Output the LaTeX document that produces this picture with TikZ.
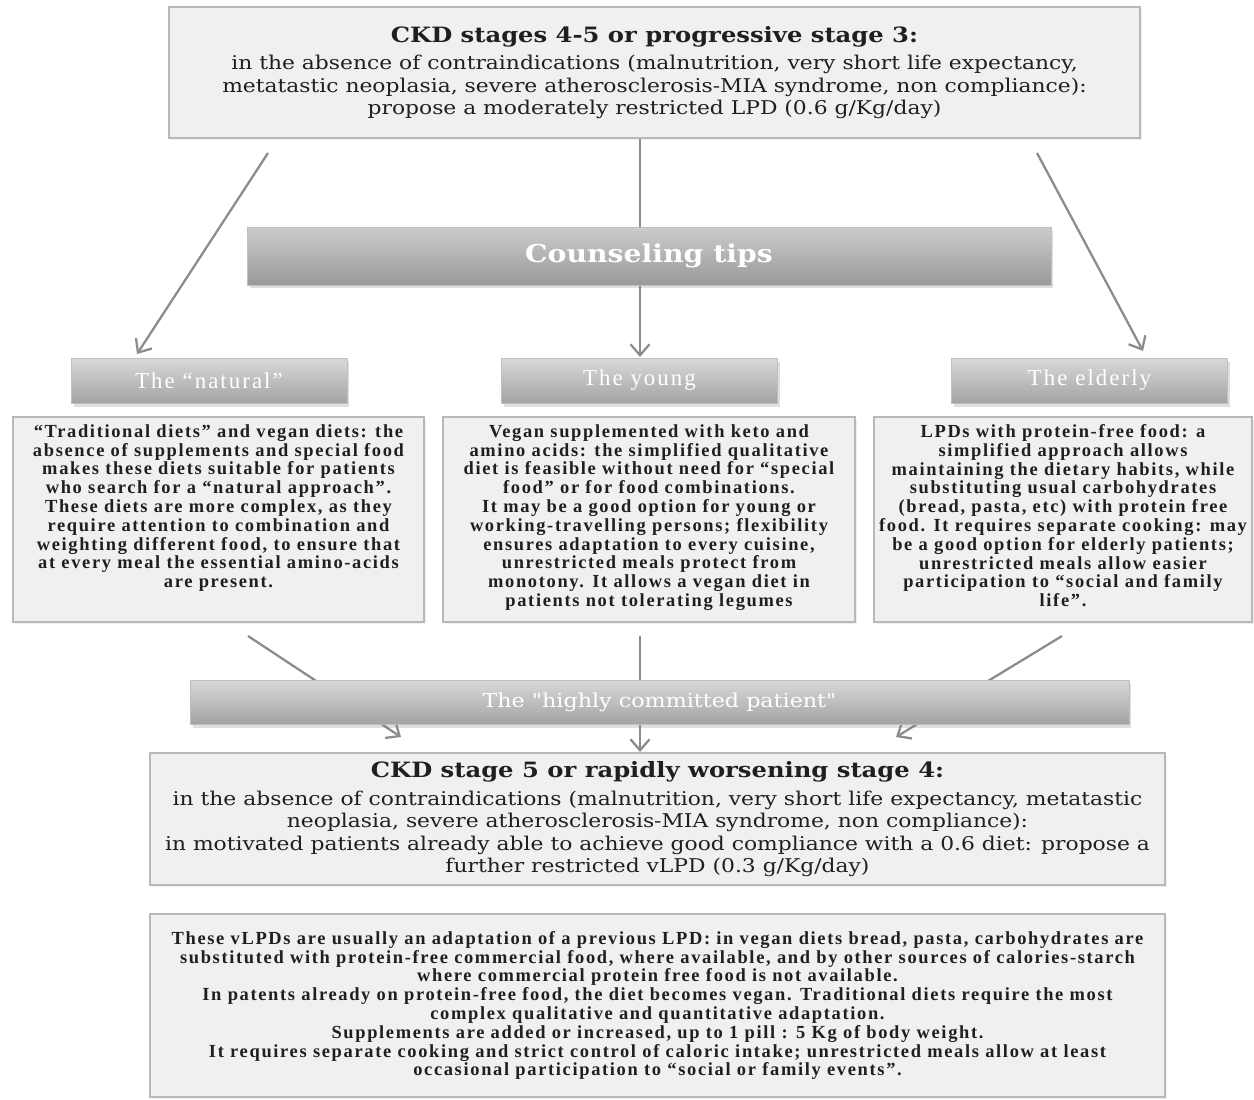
\documentclass[tikz,border=0pt]{standalone}
\usepackage{fontspec}
\setmainfont{Liberation Serif}
\newfontfamily\cambriafont[FakeStretch=1.15]{DejaVu Serif}
\newfontfamily\spacedfont[LetterSpace=9]{Liberation Serif}
\usetikzlibrary{arrows.meta, calc, shadows, backgrounds}

\begin{document}
\begin{tikzpicture}[x=0.02cm, y=-0.02cm, >={Straight Barb[length=2.2mm, width=3.8mm]},
  flowline/.style={draw=black!45, line width=1.3pt},
  stagebox/.style={draw=black!28, fill=black!6, line width=0.8pt, align=center, inner sep=0pt, text=black!88,
    font=\cambriafont\fontsize{10.8}{12.8}\selectfont,
    drop shadow={shadow xshift=0.4mm, shadow yshift=-0.5mm, opacity=0.12}},
  tipbox/.style={draw=black!28, fill=black!6, line width=0.8pt, align=center, inner sep=0pt, text=black!88,
    font=\spacedfont\bfseries\fontsize{10.5}{10.7}\selectfont,
    drop shadow={shadow xshift=0.4mm, shadow yshift=-0.5mm, opacity=0.12}},
  headbox/.style={draw=black!25, top color=black!15, bottom color=black!36, text=white, inner sep=0pt,
    drop shadow={shadow xshift=0.5mm, shadow yshift=-0.7mm, opacity=0.25}}]
  \useasboundingbox (0,0) rectangle (1254,1099);

  \node[stagebox, minimum width=19.42cm, minimum height=2.62cm] (stage34) at (654.5,72.5)
    {{\bfseries\fontsize{12}{15}\selectfont CKD stages 4-5 or progressive stage 3:}\\[3pt]
     in the absence of contraindications (malnutrition, very short life expectancy,\\
     metatastic neoplasia, severe atherosclerosis-MIA syndrome, non compliance):\\
     propose a moderately restricted LPD (0.6 g/Kg/day)};

  \node[headbox, top color=black!20, bottom color=black!40, minimum width=16.08cm, minimum height=1.16cm,
    font=\cambriafont\bfseries\fontsize{14}{16}\selectfont] (tips) at (649,256) {Counseling tips};

  \node[headbox, minimum width=5.52cm, minimum height=0.9cm, font=\spacedfont\fontsize{13}{15}\selectfont] (natural) at (209,380.5) {The “natural”};
  \node[headbox, minimum width=5.52cm, minimum height=0.9cm, font=\spacedfont\fontsize{13}{15}\selectfont] (young) at (639.5,380.5) {The young};
  \node[headbox, minimum width=5.52cm, minimum height=0.9cm, font=\spacedfont\fontsize{13}{15}\selectfont] (elderly) at (1089.5,380.5) {The elderly};

  \node[tipbox, minimum width=8.22cm, minimum height=4.1cm] (naturaltext) at (218.5,519.5)
    {\parbox[c][3.8cm][t]{8.1cm}{\centering
     “Traditional diets” and vegan diets: the\\
     absence of supplements and special food\\
     makes these diets suitable for patients\\
     who search for a “natural approach”.\\
     These diets are more complex, as they\\
     require attention to combination and\\
     weighting different food, to ensure that\\
     at every meal the essential amino-acids\\
     are present.}};
  \node[tipbox, minimum width=8.24cm, minimum height=4.1cm] (youngtext) at (649,519.5)
    {\parbox[c][3.8cm][t]{8.1cm}{\centering
     Vegan supplemented with keto and\\
     amino acids: the simplified qualitative\\
     diet is feasible without need for “special\\
     food” or for food combinations.\\
     It may be a good option for young or\\
     working-travelling persons; flexibility\\
     ensures adaptation to every cuisine,\\
     unrestricted meals protect from\\
     monotony. It allows a vegan diet in\\
     patients not tolerating legumes}};
  \node[tipbox, minimum width=7.56cm, minimum height=4.1cm] (elderlytext) at (1063,519.5)
    {\parbox[c][3.8cm][t]{7.5cm}{\centering
     LPDs with protein-free food: a\\
     simplified approach allows\\
     maintaining the dietary habits, while\\
     substituting usual carbohydrates\\
     (bread, pasta, etc) with protein free\\
     food. It requires separate cooking: may\\
     be a good option for elderly patients;\\
     unrestricted meals allow easier\\
     participation to “social and family\\
     life”.}};

  \node[headbox, minimum width=18.78cm, minimum height=0.88cm, font=\cambriafont\fontsize{11}{13}\selectfont] (committed) at (659.5,702) {The "highly committed patient"};

  \node[stagebox, minimum width=20.3cm, minimum height=2.64cm] (stage45) at (657.5,819)
    {{\bfseries\fontsize{12}{15}\selectfont CKD stage 5 or rapidly worsening stage 4:}\\[3pt]
     in the absence of contraindications (malnutrition, very short life expectancy, metatastic\\
     neoplasia, severe atherosclerosis-MIA syndrome, non compliance):\\
     in motivated patients already able to achieve good compliance with a 0.6 diet: propose a\\
     further restricted vLPD (0.3 g/Kg/day)};

  \node[tipbox, minimum width=20.3cm, minimum height=3.66cm] (adaptation) at (657.5,1005.5)
    {These vLPDs are usually an adaptation of a previous LPD: in vegan diets bread, pasta, carbohydrates are\\
     substituted with protein-free commercial food, where available, and by other sources of calories-starch\\
     where commercial protein free food is not available.\\
     In patents already on protein-free food, the diet becomes vegan. Traditional diets require the most\\
     complex qualitative and quantitative adaptation.\\
     Supplements are added or increased, up to 1 pill : 5 Kg of body weight.\\
     It requires separate cooking and strict control of caloric intake; unrestricted meals allow at least\\
     occasional participation to “social or family events”.};

  \coordinate (leftstart) at (268,153);
  \coordinate (leftend) at (137,354);
  \coordinate (midend) at (640,357);
  \coordinate (rightstart) at (1037,153);
  \coordinate (rightend) at (1143,351);
  \coordinate (lowleftstart) at (248,636);
  \coordinate (lowleftend) at (401,737);
  \coordinate (lowmidstart) at (640,636);
  \coordinate (lowmidend) at (640,752);
  \coordinate (lowrightstart) at (1062,636);
  \coordinate (lowrightend) at (896,737);

  \begin{scope}[on background layer]
    \draw[flowline, ->] (stage34.south -| midend) -- (midend);
    \draw[flowline, ->] (leftstart) -- (leftend);
    \draw[flowline, ->] (rightstart) -- (rightend);
    \draw[flowline, ->] (lowleftstart) -- (lowleftend);
    \draw[flowline, ->] (lowmidstart) -- (lowmidend);
    \draw[flowline, ->] (lowrightstart) -- (lowrightend);
  \end{scope}
\end{tikzpicture}
\end{document}
